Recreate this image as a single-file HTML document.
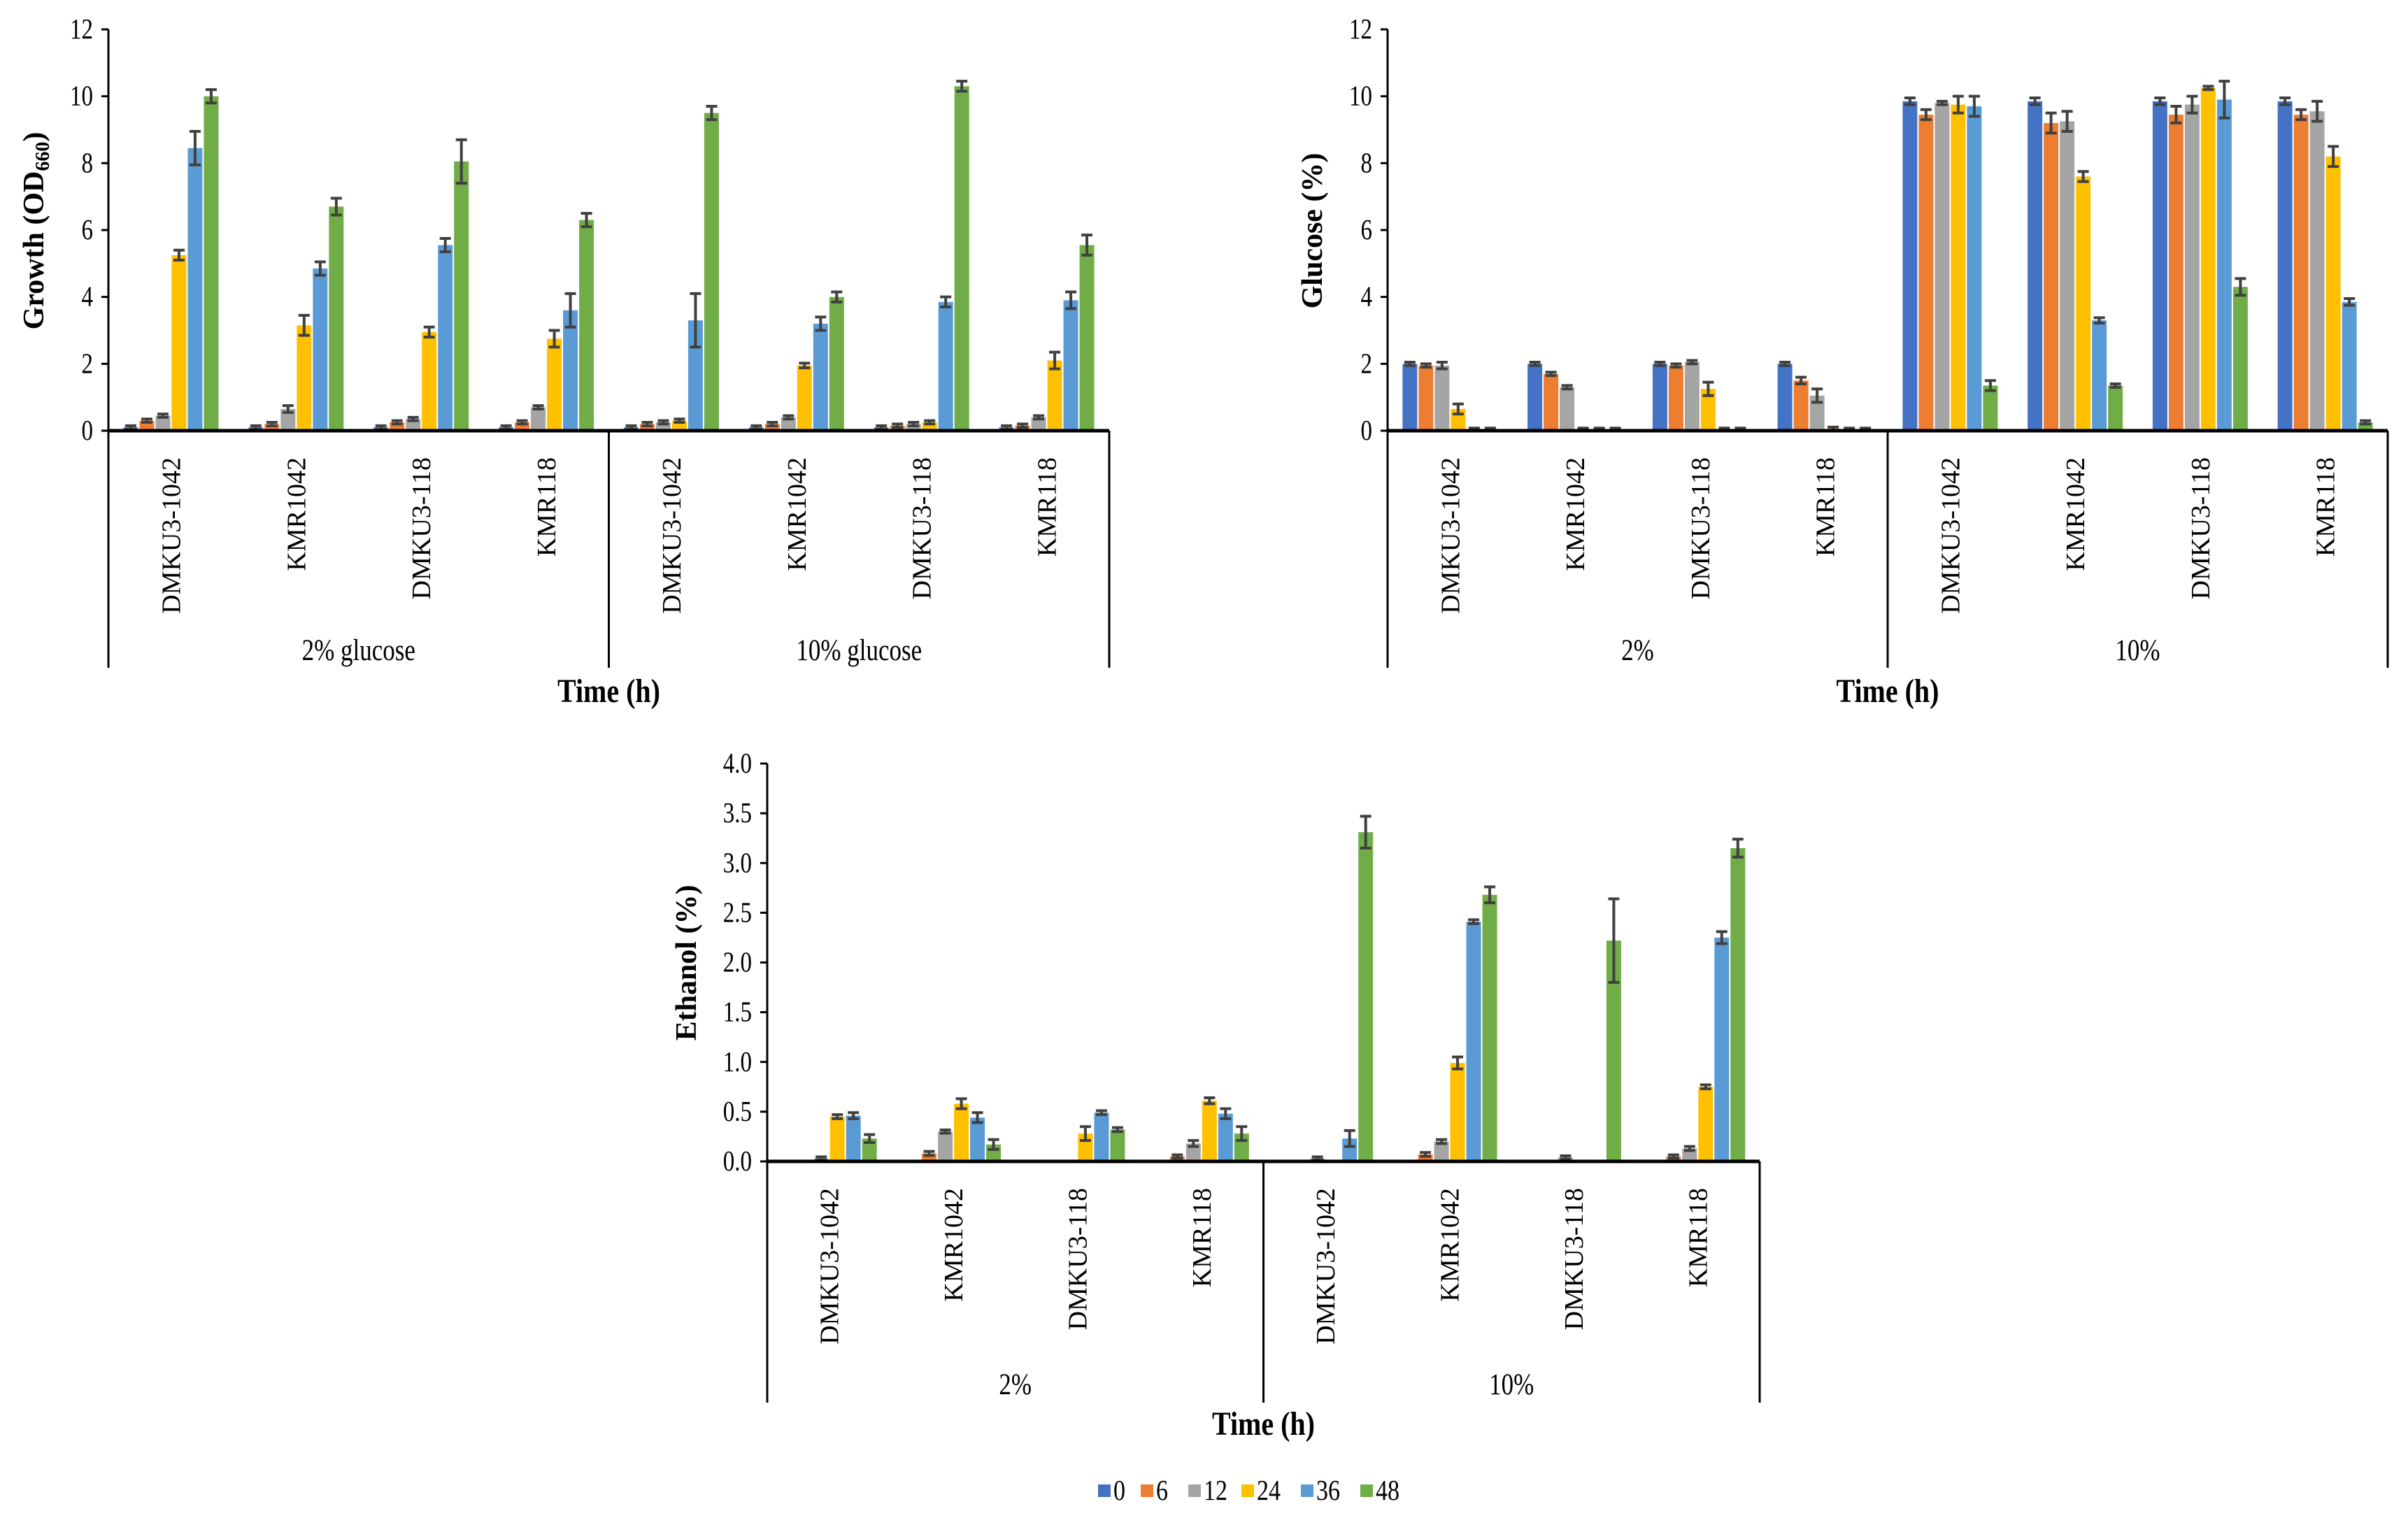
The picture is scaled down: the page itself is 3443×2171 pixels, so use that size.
<!DOCTYPE html>
<html><head><meta charset="utf-8">
<style>
html,body{margin:0;padding:0;background:#fff;}
svg{display:block;font-family:"Liberation Serif",serif;}
</style></head>
<body>
<svg id="svg" width="3443" height="2171" viewBox="0 0 3443 2171" xmlns="http://www.w3.org/2000/svg"></svg>
<script>
const categories = ["DMKU3-1042","KMR1042","DMKU3-118","KMR118","DMKU3-1042","KMR1042","DMKU3-118","KMR118"];
const seriesNames = ["0","6","12","24","36","48"];
const colors = ["#4472C4","#ED7D31","#A5A5A5","#FFC000","#5B9BD5","#70AD47"];

const growthValues = [
 [0.1,0.3,0.45,5.25,8.45,10.0],[0.1,0.2,0.65,3.15,4.85,6.7],[0.1,0.25,0.35,2.95,5.55,8.05],[0.1,0.25,0.7,2.75,3.6,6.3],
 [0.1,0.2,0.25,0.3,3.3,9.5],[0.1,0.2,0.4,1.95,3.2,4.0],[0.1,0.15,0.2,0.25,3.85,10.3],[0.1,0.15,0.4,2.1,3.9,5.55]];
const growthErrors = [
 [0.05,0.05,0.05,0.15,0.5,0.2],[0.05,0.05,0.1,0.3,0.2,0.25],[0.05,0.05,0.05,0.15,0.2,0.65],[0.05,0.05,0.05,0.25,0.5,0.2],
 [0.05,0.05,0.05,0.05,0.8,0.2],[0.05,0.05,0.05,0.07,0.2,0.15],[0.05,0.05,0.05,0.05,0.15,0.15],[0.05,0.05,0.05,0.25,0.25,0.3]];
const growthTicks = ["0","2","4","6","8","10","12"];

const glucoseValues = [
 [2.0,1.95,1.95,0.65,0.03,0.03],[2.0,1.7,1.3,0.03,0.03,0.03],[2.0,1.95,2.05,1.25,0.03,0.03],[2.0,1.5,1.05,0.06,0.03,0.03],
 [9.85,9.45,9.8,9.75,9.7,1.35],[9.85,9.2,9.25,7.6,3.3,1.35],[9.85,9.45,9.75,10.25,9.9,4.3],[9.85,9.45,9.55,8.2,3.85,0.25]];
const glucoseErrors = [
 [0.05,0.05,0.1,0.15,0.02,0.02],[0.05,0.05,0.05,0.02,0.02,0.02],[0.05,0.05,0.05,0.2,0.02,0.02],[0.05,0.1,0.2,0.03,0.02,0.02],
 [0.1,0.15,0.05,0.25,0.3,0.15],[0.1,0.3,0.3,0.15,0.08,0.05],[0.1,0.25,0.25,0.05,0.55,0.25],[0.1,0.15,0.3,0.3,0.1,0.05]];
const glucoseTicks = ["0","2","4","6","8","10","12"];

const ethanolValues = [
 [0,0,0.03,0.45,0.46,0.23],[0,0.08,0.3,0.58,0.44,0.17],[0,0,0,0.28,0.49,0.32],[0,0.05,0.18,0.61,0.48,0.28],
 [0,0,0.03,0,0.23,3.31],[0,0.07,0.2,0.99,2.41,2.68],[0,0,0.04,0,0,2.22],[0,0.05,0.13,0.75,2.25,3.15]];
const ethanolErrors = [
 [0,0,0.01,0.02,0.03,0.04],[0,0.02,0.01,0.05,0.05,0.05],[0,0,0,0.07,0.02,0.02],[0,0.01,0.03,0.03,0.05,0.07],
 [0,0,0.01,0,0.08,0.16],[0,0.02,0.02,0.06,0.02,0.08],[0,0,0.01,0,0,0.42],[0,0.01,0.02,0.02,0.06,0.09]];
const ethanolTicks = ["0.0","0.5","1.0","1.5","2.0","2.5","3.0","3.5","4.0"];

const NS = "http://www.w3.org/2000/svg";
const svg = document.getElementById("svg");
function el(tag, attrs, parent, text){
  const e = document.createElementNS(NS, tag);
  for (const k in attrs) e.setAttribute(k, attrs[k]);
  if (text !== undefined) e.textContent = text;
  (parent || svg).appendChild(e);
  return e;
}

function drawChart(o){
  const g = el("g", {});
  
  
  const yMax = parseFloat(o.ticks[o.ticks.length-1]);
  const y = v => o.y0 - (v / yMax) * (o.y0 - o.yTop);
  const catW = (o.x1 - o.x0) / categories.length;
  const barW = 23;
  categories.forEach((c, ci) => {
    const cx = o.x0 + catW * (ci + 0.5);
    seriesNames.forEach((s, si) => {
      const v = o.values[ci][si];
      const bx = cx - barW * 3 + si * barW;
      const r = el("rect", {x: bx + 1, y: y(v), width: barW - 2, height: Math.max(0, o.y0 - y(v)), fill: colors[si]}, g);
      
      
      const e = o.errors[ci][si];
      if (v > 0 || e > 0) {
        const ee = Math.max(e, yMax * 0.004);
        const ex = bx + barW / 2;
        const eb = el("path", {d: `M${ex},${y(v+ee)}V${y(Math.max(0,v-ee))}M${ex-8},${y(v+ee)}H${ex+8}M${ex-8},${y(Math.max(0,v-ee))}H${ex+8}`, stroke: "#404040", "stroke-width": 4, fill: "none"}, g);
        
        
      }
    });
    const lab = el("text", {x: 0, y: 0, transform: `translate(${cx+13},${o.y0+38}) rotate(-90)`, "text-anchor": "end", "font-size": 38, fill: "#000"}, g, c);
    
    
  });
  const ya = el("path", {d: `M${o.x0},${o.yTop}V${o.y0}`, stroke: "#000", "stroke-width": 3}, g);
  
  
  o.ticks.forEach(t => {
    const ty = y(parseFloat(t));
    el("path", {d: `M${o.x0-10},${ty}H${o.x0}`, stroke: "#000", "stroke-width": 3}, g);
    const tl = el("text", {x: 0, y: 0, transform: `translate(${o.x0 - 22},${ty + 13}) scale(1,1.25)`, "text-anchor": "end", "font-size": 33, fill: "#000"}, g, t);
    
    
  });
  const xa = el("path", {d: `M${o.x0},${o.y0}H${o.x1}`, stroke: "#000", "stroke-width": 5}, g);
  
  
  const xm = o.x0 + catW * 4;
  el("path", {d: `M${o.x0},${o.y0}V${o.bottom}M${xm},${o.y0}V${o.bottom}M${o.x1},${o.y0}V${o.bottom}`, stroke: "#000", "stroke-width": 3}, g);
  o.groups.forEach((gl, gi) => {
    const t = el("text", {x: 0, y: 0, transform: `translate(${o.x0 + catW * (2 + 4 * gi)},${o.groupY}) scale(1,1.25)`, "text-anchor": "middle", "font-size": 35}, g, gl);
    
    
  });
  const xt = el("text", {x: 0, y: 0, transform: `translate(${(o.x0 + o.x1) / 2},${o.timeY}) scale(1,1.2)`, "text-anchor": "middle", "font-size": 40, "font-weight": "bold"}, g, "Time (h)");
  
  
  const yt = el("text", {x: 0, y: 0, transform: `translate(${o.yTitleX},${o.yTitleY}) rotate(-90)`, "text-anchor": "middle", "font-size": 42, "font-weight": "bold"}, g);
  
  
  yt.textContent = o.yTitle;
  if (o.sub) { el("tspan", {"font-size": 28, dy: 8}, yt, o.sub); el("tspan", {dy: -8}, yt, ")"); }
}

drawChart({name:"growth-chart", values: growthValues, errors: growthErrors, ticks: growthTicks,
  x0:155, x1:1586, yTop:42, y0:616, bottom:955, groupY:944, timeY:1004,
  groups:["2% glucose","10% glucose"], yTitle:"Growth (OD", sub:"660", yTitleX:62, yTitleY:330});
drawChart({name:"glucose-chart", values: glucoseValues, errors: glucoseErrors, ticks: glucoseTicks,
  x0:1984, x1:3414, yTop:42, y0:616, bottom:955, groupY:944, timeY:1004,
  groups:["2%","10%"], yTitle:"Glucose (%)", yTitleX:1890, yTitleY:330});
drawChart({name:"ethanol-chart", values: ethanolValues, errors: ethanolErrors, ticks: ethanolTicks,
  x0:1097, x1:2516, yTop:1092, y0:1661, bottom:2006, groupY:1994, timeY:2052,
  groups:["2%","10%"], yTitle:"Ethanol (%)", yTitleX:995, yTitleY:1377});

const legend = el("g", {});


const legendX = [1570, 1631, 1699, 1775, 1860, 1945];
seriesNames.forEach((s, i) => {
  const it = el("g", {}, legend);
  
  
  el("rect", {x: legendX[i], y: 2123, width: 18, height: 18, fill: colors[i]}, it);
  el("text", {x: 0, y: 0, transform: `translate(${legendX[i] + 22},${2145}) scale(1,1.2)`, "font-size": 34}, it, s);
});
</script>
</body></html>
